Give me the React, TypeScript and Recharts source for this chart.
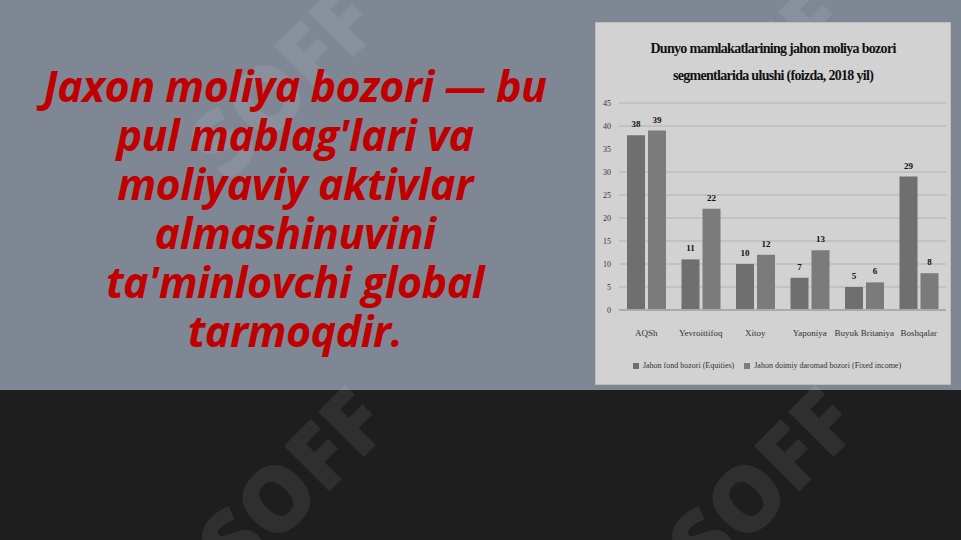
import React from 'react';
import { BarChart, Bar, XAxis, YAxis, CartesianGrid, Legend, LabelList } from 'recharts';

const countries = ['AQSh', 'Yevroittifoq', 'Xitoy', 'Yaponiya', 'Buyuk Britaniya', 'Boshqalar'];
const equities = [38, 11, 10, 7, 5, 29];
const fixedIncome = [39, 22, 12, 13, 6, 8];
const yTicks = [0, 5, 10, 15, 20, 25, 30, 35, 40, 45];

const EQ = 'Jahon fond bozori (Equities)';
const FI = 'Jahon doimiy daromad bozori (Fixed income)';

const data = countries.map((c, i) => ({ name: c, [EQ]: equities[i], [FI]: fixedIncome[i] }));

const serif = '"Liberation Serif", "DejaVu Serif", serif';

function Watermark({ x, y }: { x: number; y: number }) {
  return (
    <div
      style={{
        position: 'absolute',
        left: x,
        top: y,
        transform: 'rotate(-45deg)',
        fontFamily: '"Open Sans", sans-serif',
        fontWeight: 800,
        fontSize: 90,
        color: 'rgba(255,255,255,0.08)',
        pointerEvents: 'none',
      }}
    >
      SOFF
    </div>
  );
}

export default function App() {
  return (
    <div style={{ position: 'absolute', left: 0, top: 0, width: 961, height: 540, overflow: 'hidden', background: '#1e1e1e' }}>
      <div style={{ position: 'absolute', left: 0, top: 0, width: 961, height: 390, background: '#7f8795' }} />

      <Watermark x={170} y={20} />
      <Watermark x={640} y={20} />
      <Watermark x={180} y={420} />
      <Watermark x={650} y={420} />

      <div
        style={{
          position: 'absolute',
          left: 0,
          top: 61,
          width: 590,
          textAlign: 'center',
          fontFamily: '"Open Sans", sans-serif',
          fontWeight: 700,
          fontStyle: 'italic',
          fontSize: 43,
          lineHeight: '49px',
          letterSpacing: -0.5,
          color: '#c00000',
        }}
      >
        Jaxon moliya bozori — bu
        <br />
        pul mablag'lari va
        <br />
        moliyaviy aktivlar
        <br />
        almashinuvini
        <br />
        ta'minlovchi global
        <br />
        tarmoqdir.
      </div>

      <div
        style={{
          position: 'absolute',
          left: 595,
          top: 22,
          width: 354,
          height: 361,
          background: '#d2d2d2',
          border: '1px solid #bcbcbc',
        }}
      >
        <div
          style={{
            position: 'absolute',
            left: 0,
            top: 12,
            width: 354,
            textAlign: 'center',
            fontFamily: serif,
            fontWeight: 700,
            fontSize: 14,
            lineHeight: '27px',
            letterSpacing: -0.7,
            color: '#111',
          }}
        >
          Dunyo mamlakatlarining jahon moliya bozori
          <br />
          segmentlarida ulushi (foizda, 2018 yil)
        </div>
        <div style={{ position: 'absolute', left: 0, top: 0 }}>
          <BarChart
            width={354}
            height={361}
            data={data}
            margin={{ top: 80, right: 4, left: 2, bottom: 4 }}
            barSize={18}
            barGap={3}
          >
            <CartesianGrid vertical={false} stroke="#bdbdbd" strokeWidth={1.5} />
            <XAxis
              dataKey="name"
              height={38}
              interval={0}
              tickLine={false}
              axisLine={{ stroke: '#aaaaaa', strokeWidth: 2 }}
              tick={{ fontFamily: serif, fontSize: 9, fill: '#333' }}
              tickMargin={14}
            />
            <YAxis
              width={21}
              domain={[0, 45]}
              ticks={yTicks}
              tickLine={false}
              axisLine={false}
              tick={{ fontFamily: serif, fontSize: 8, fill: '#333' }}
            />
            <Legend
              verticalAlign="bottom"
              height={32}
              iconType="square"
              iconSize={6}
              itemSorter={(item: any) => (item.value === EQ ? 0 : 1)}
              wrapperStyle={{ top: 338, fontFamily: serif, fontSize: 8, color: '#333' }}
              formatter={(v: string) => <span style={{ color: '#333' }}>{v}</span>}
            />
            <Bar dataKey={EQ} fill="#6f6f6f" isAnimationActive={false}>
              <LabelList dataKey={EQ} position="top" offset={8} style={{ fontFamily: serif, fontSize: 9, fontWeight: 700, fill: '#111' }} />
            </Bar>
            <Bar dataKey={FI} fill="#7b7b7b" isAnimationActive={false}>
              <LabelList dataKey={FI} position="top" offset={8} style={{ fontFamily: serif, fontSize: 9, fontWeight: 700, fill: '#111' }} />
            </Bar>
          </BarChart>
        </div>
      </div>
    </div>
  );
}
